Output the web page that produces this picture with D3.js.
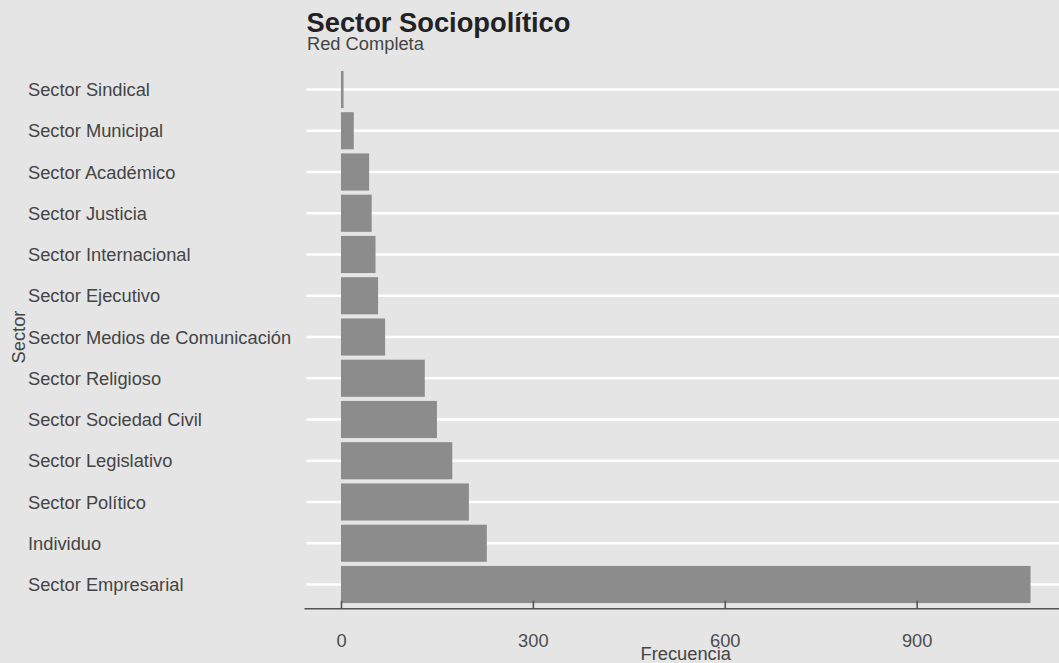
<!DOCTYPE html>
<html>
<head>
<meta charset="utf-8">
<script src="https://cdn.jsdelivr.net/npm/d3@7"></script>
<style>
  html, body { margin: 0; padding: 0; background: #e5e5e5; }
  svg { display: block; }
  text { font-family: "Liberation Sans", Arial, Helvetica, sans-serif; }
</style>
</head>
<body>
<svg id="chart" width="1059" height="663"></svg>
<script>
// Data (top to bottom)
const categories = [
  "Sector Sindical",
  "Sector Municipal",
  "Sector Académico",
  "Sector Justicia",
  "Sector Internacional",
  "Sector Ejecutivo",
  "Sector Medios de Comunicación",
  "Sector Religioso",
  "Sector Sociedad Civil",
  "Sector Legislativo",
  "Sector Político",
  "Individuo",
  "Sector Empresarial"
];
const values = [4, 20, 44, 48, 54, 58, 69, 131, 150, 174, 200, 228, 1078];
const xTicks = [0, 300, 600, 900];
const titleText = "Sector Sociopolítico";
const subtitleText = "Red Completa";
const xTitle = "Frecuencia";
const yTitle = "Sector";

const W = 1059, H = 663;
const panel = { left: 306.5, right: 1065, top: 64.75, bottom: 609.25 };
const fs = 18.3;

const svg = d3.select("#chart");
svg.append("rect").attr("width", W).attr("height", H).attr("fill", "#e5e5e5");

const maxV = d3.max(values);
const pad = maxV * 0.05;
const x = d3.scaleLinear().domain([-pad, maxV + pad]).range([panel.left, panel.right]);

// discrete scale with ggplot-like 0.6 expansion
const n = categories.length;
const step = (panel.bottom - panel.top) / (n - 1 + 1.2);
const y = d3.scalePoint().domain(categories)
  .range([panel.top + 0.6 * step, panel.bottom - 0.6 * step]);
const barH = step * 0.9;

// grid lines
svg.append("g").selectAll("line").data(categories).join("line")
  .attr("x1", panel.left).attr("x2", W)
  .attr("y1", d => y(d)).attr("y2", d => y(d))
  .attr("stroke", "#ffffff").attr("stroke-width", 2.6);

// bars
svg.append("g").selectAll("rect").data(categories).join("rect")
  .attr("x", x(0))
  .attr("y", d => y(d) - barH / 2)
  .attr("width", (d, i) => x(values[i]) - x(0))
  .attr("height", barH)
  .attr("fill", "#8c8c8c");

// x axis
const xAxis = d3.axisBottom(x).tickValues(xTicks).tickSizeInner(-8).tickSizeOuter(0).tickPadding(25);
const gx = svg.append("g").attr("transform", `translate(0,${panel.bottom - 0.5})`).call(xAxis);
gx.select(".domain").attr("stroke", "#555").attr("stroke-width", 1.6)
  .attr("d", `M${panel.left - 2},0H${W}`);
gx.selectAll(".tick line").attr("stroke", "#555").attr("stroke-width", 1.6);
gx.selectAll(".tick text").attr("fill", "#4d4d4d").attr("font-size", fs)
  .attr("font-family", '"Liberation Sans", Arial, sans-serif');

// y labels (left aligned)
svg.append("g").selectAll("text").data(categories).join("text")
  .attr("x", 28).attr("y", d => y(d)).attr("dy", "0.36em")
  .attr("font-size", fs).attr("fill", "#444")
  .text(d => d);

// axis titles
svg.append("text")
  .attr("x", (panel.left + panel.right) / 2).attr("y", 660)
  .attr("text-anchor", "middle").attr("font-size", fs).attr("fill", "#444")
  .text(xTitle);
svg.append("text")
  .attr("transform", `translate(25,${(panel.top + panel.bottom) / 2}) rotate(-90)`)
  .attr("text-anchor", "middle").attr("font-size", fs).attr("fill", "#444")
  .text(yTitle);

// title & subtitle
svg.append("text").attr("x", 306.5).attr("y", 32)
  .attr("font-size", 27.3).attr("font-weight", "bold").attr("fill", "#222")
  .text(titleText);
svg.append("text").attr("x", 307).attr("y", 49.5)
  .attr("font-size", fs).attr("fill", "#444")
  .text(subtitleText);
</script>
</body>
</html>
